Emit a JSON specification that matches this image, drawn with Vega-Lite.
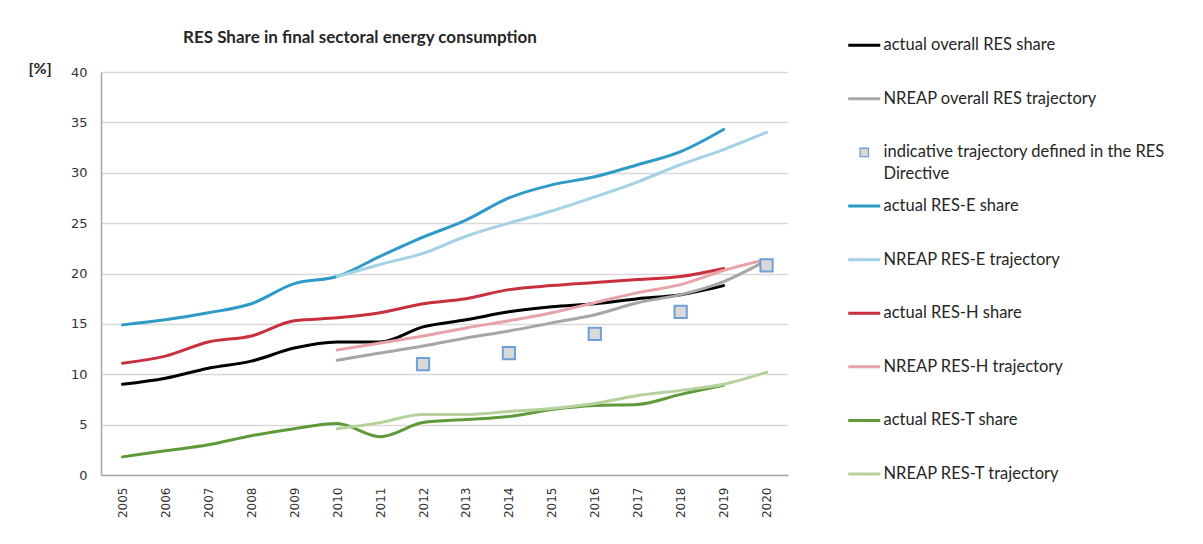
{
  "$schema": "https://vega.github.io/schema/vega-lite/v6.json",
  "width": 687,
  "height": 403,
  "autosize": {"type": "none"},
  "padding": {"left": 101, "top": 72, "right": 415, "bottom": 69},
  "background": "white",
  "title": {
    "text": "RES Share in final sectoral energy consumption",
    "anchor": "start",
    "frame": "group",
    "dx": 82,
    "dy": 23,
    "offset": 0,
    "baseline": "alphabetic",
    "font": "Lato",
    "fontSize": 17,
    "fontWeight": "bold",
    "color": "#262626"
  },
  "data": {
    "values": [
      {"year": 2005, "series": "actual overall RES share", "value": 9.0},
      {"year": 2006, "series": "actual overall RES share", "value": 9.6},
      {"year": 2007, "series": "actual overall RES share", "value": 10.6},
      {"year": 2008, "series": "actual overall RES share", "value": 11.3},
      {"year": 2009, "series": "actual overall RES share", "value": 12.6},
      {"year": 2010, "series": "actual overall RES share", "value": 13.2},
      {"year": 2011, "series": "actual overall RES share", "value": 13.2},
      {"year": 2012, "series": "actual overall RES share", "value": 14.7},
      {"year": 2013, "series": "actual overall RES share", "value": 15.4},
      {"year": 2014, "series": "actual overall RES share", "value": 16.2},
      {"year": 2015, "series": "actual overall RES share", "value": 16.7},
      {"year": 2016, "series": "actual overall RES share", "value": 17.0},
      {"year": 2017, "series": "actual overall RES share", "value": 17.5},
      {"year": 2018, "series": "actual overall RES share", "value": 17.9},
      {"year": 2019, "series": "actual overall RES share", "value": 18.8},
      {"year": 2010, "series": "NREAP overall RES trajectory", "value": 11.4},
      {"year": 2011, "series": "NREAP overall RES trajectory", "value": 12.1},
      {"year": 2012, "series": "NREAP overall RES trajectory", "value": 12.8},
      {"year": 2013, "series": "NREAP overall RES trajectory", "value": 13.6},
      {"year": 2014, "series": "NREAP overall RES trajectory", "value": 14.3},
      {"year": 2015, "series": "NREAP overall RES trajectory", "value": 15.1},
      {"year": 2016, "series": "NREAP overall RES trajectory", "value": 15.9},
      {"year": 2017, "series": "NREAP overall RES trajectory", "value": 17.1},
      {"year": 2018, "series": "NREAP overall RES trajectory", "value": 17.9},
      {"year": 2019, "series": "NREAP overall RES trajectory", "value": 19.2},
      {"year": 2020, "series": "NREAP overall RES trajectory", "value": 21.3},
      {"year": 2012, "series": "indicative trajectory defined in the RES Directive", "value": 11.0},
      {"year": 2014, "series": "indicative trajectory defined in the RES Directive", "value": 12.1},
      {"year": 2016, "series": "indicative trajectory defined in the RES Directive", "value": 14.0},
      {"year": 2018, "series": "indicative trajectory defined in the RES Directive", "value": 16.2},
      {"year": 2020, "series": "indicative trajectory defined in the RES Directive", "value": 20.8},
      {"year": 2005, "series": "actual RES-E share", "value": 14.9},
      {"year": 2006, "series": "actual RES-E share", "value": 15.4},
      {"year": 2007, "series": "actual RES-E share", "value": 16.1},
      {"year": 2008, "series": "actual RES-E share", "value": 17.0},
      {"year": 2009, "series": "actual RES-E share", "value": 19.0},
      {"year": 2010, "series": "actual RES-E share", "value": 19.7},
      {"year": 2011, "series": "actual RES-E share", "value": 21.7},
      {"year": 2012, "series": "actual RES-E share", "value": 23.6},
      {"year": 2013, "series": "actual RES-E share", "value": 25.3},
      {"year": 2014, "series": "actual RES-E share", "value": 27.5},
      {"year": 2015, "series": "actual RES-E share", "value": 28.8},
      {"year": 2016, "series": "actual RES-E share", "value": 29.6},
      {"year": 2017, "series": "actual RES-E share", "value": 30.8},
      {"year": 2018, "series": "actual RES-E share", "value": 32.1},
      {"year": 2019, "series": "actual RES-E share", "value": 34.3},
      {"year": 2010, "series": "NREAP RES-E trajectory", "value": 19.7},
      {"year": 2011, "series": "NREAP RES-E trajectory", "value": 20.9},
      {"year": 2012, "series": "NREAP RES-E trajectory", "value": 22.0},
      {"year": 2013, "series": "NREAP RES-E trajectory", "value": 23.7},
      {"year": 2014, "series": "NREAP RES-E trajectory", "value": 25.0},
      {"year": 2015, "series": "NREAP RES-E trajectory", "value": 26.2},
      {"year": 2016, "series": "NREAP RES-E trajectory", "value": 27.6},
      {"year": 2017, "series": "NREAP RES-E trajectory", "value": 29.1},
      {"year": 2018, "series": "NREAP RES-E trajectory", "value": 30.8},
      {"year": 2019, "series": "NREAP RES-E trajectory", "value": 32.3},
      {"year": 2020, "series": "NREAP RES-E trajectory", "value": 34.0},
      {"year": 2005, "series": "actual RES-H share", "value": 11.1},
      {"year": 2006, "series": "actual RES-H share", "value": 11.8},
      {"year": 2007, "series": "actual RES-H share", "value": 13.2},
      {"year": 2008, "series": "actual RES-H share", "value": 13.8},
      {"year": 2009, "series": "actual RES-H share", "value": 15.3},
      {"year": 2010, "series": "actual RES-H share", "value": 15.6},
      {"year": 2011, "series": "actual RES-H share", "value": 16.1},
      {"year": 2012, "series": "actual RES-H share", "value": 17.0},
      {"year": 2013, "series": "actual RES-H share", "value": 17.5},
      {"year": 2014, "series": "actual RES-H share", "value": 18.4},
      {"year": 2015, "series": "actual RES-H share", "value": 18.8},
      {"year": 2016, "series": "actual RES-H share", "value": 19.1},
      {"year": 2017, "series": "actual RES-H share", "value": 19.4},
      {"year": 2018, "series": "actual RES-H share", "value": 19.7},
      {"year": 2019, "series": "actual RES-H share", "value": 20.5},
      {"year": 2010, "series": "NREAP RES-H trajectory", "value": 12.4},
      {"year": 2011, "series": "NREAP RES-H trajectory", "value": 13.1},
      {"year": 2012, "series": "NREAP RES-H trajectory", "value": 13.8},
      {"year": 2013, "series": "NREAP RES-H trajectory", "value": 14.6},
      {"year": 2014, "series": "NREAP RES-H trajectory", "value": 15.3},
      {"year": 2015, "series": "NREAP RES-H trajectory", "value": 16.1},
      {"year": 2016, "series": "NREAP RES-H trajectory", "value": 17.1},
      {"year": 2017, "series": "NREAP RES-H trajectory", "value": 18.1},
      {"year": 2018, "series": "NREAP RES-H trajectory", "value": 18.9},
      {"year": 2019, "series": "NREAP RES-H trajectory", "value": 20.3},
      {"year": 2020, "series": "NREAP RES-H trajectory", "value": 21.4},
      {"year": 2005, "series": "actual RES-T share", "value": 1.8},
      {"year": 2006, "series": "actual RES-T share", "value": 2.4},
      {"year": 2007, "series": "actual RES-T share", "value": 3.0},
      {"year": 2008, "series": "actual RES-T share", "value": 3.9},
      {"year": 2009, "series": "actual RES-T share", "value": 4.6},
      {"year": 2010, "series": "actual RES-T share", "value": 5.1},
      {"year": 2011, "series": "actual RES-T share", "value": 3.8},
      {"year": 2012, "series": "actual RES-T share", "value": 5.2},
      {"year": 2013, "series": "actual RES-T share", "value": 5.5},
      {"year": 2014, "series": "actual RES-T share", "value": 5.8},
      {"year": 2015, "series": "actual RES-T share", "value": 6.5},
      {"year": 2016, "series": "actual RES-T share", "value": 6.9},
      {"year": 2017, "series": "actual RES-T share", "value": 7.0},
      {"year": 2018, "series": "actual RES-T share", "value": 8.0},
      {"year": 2019, "series": "actual RES-T share", "value": 8.9},
      {"year": 2010, "series": "NREAP RES-T trajectory", "value": 4.6},
      {"year": 2011, "series": "NREAP RES-T trajectory", "value": 5.2},
      {"year": 2012, "series": "NREAP RES-T trajectory", "value": 6.0},
      {"year": 2013, "series": "NREAP RES-T trajectory", "value": 6.0},
      {"year": 2014, "series": "NREAP RES-T trajectory", "value": 6.3},
      {"year": 2015, "series": "NREAP RES-T trajectory", "value": 6.6},
      {"year": 2016, "series": "NREAP RES-T trajectory", "value": 7.1},
      {"year": 2017, "series": "NREAP RES-T trajectory", "value": 7.9},
      {"year": 2018, "series": "NREAP RES-T trajectory", "value": 8.4},
      {"year": 2019, "series": "NREAP RES-T trajectory", "value": 9.0},
      {"year": 2020, "series": "NREAP RES-T trajectory", "value": 10.2}
    ]
  },
  "encoding": {
    "x": {
      "field": "year",
      "type": "ordinal",
      "scale": {"type": "point", "padding": 0.5},
      "axis": {
        "title": null,
        "labelAngle": 270,
        "labelAlign": "right",
        "labelBaseline": "middle",
        "labelPadding": 12,
        "labelFont": "DejaVu Sans",
        "labelFontSize": 12,
        "labelColor": "#333333",
        "ticks": false,
        "tickSize": 0,
        "grid": false,
        "domainColor": "#a6a6a6",
        "domainWidth": 1.5
      }
    },
    "y": {
      "field": "value",
      "type": "quantitative",
      "scale": {"domain": [0, 40], "nice": false},
      "axis": {
        "title": "[%]",
        "titleAngle": 0,
        "titleX": -73,
        "titleY": -4,
        "titleAlign": "left",
        "titleBaseline": "middle",
        "titleFont": "Lato",
        "titleFontSize": 16,
        "titleFontWeight": "bold",
        "titleColor": "#262626",
        "values": [0, 5, 10, 15, 20, 25, 30, 35, 40],
        "labelFont": "DejaVu Sans",
        "labelFontSize": 13,
        "labelColor": "#333333",
        "labelPadding": 14,
        "ticks": false,
        "tickSize": 0,
        "grid": true,
        "gridColor": "#d9d9d9",
        "gridWidth": 1.3,
        "domainColor": "#a6a6a6",
        "domainWidth": 1.5
      }
    },
    "color": {
      "field": "series",
      "type": "nominal",
      "sort": null,
      "scale": {
        "domain": [
          "actual overall RES share",
          "NREAP overall RES trajectory",
          "indicative trajectory defined in the RES Directive",
          "actual RES-E share",
          "NREAP RES-E trajectory",
          "actual RES-H share",
          "NREAP RES-H trajectory",
          "actual RES-T share",
          "NREAP RES-T trajectory"
        ],
        "range": ["#000000", "#a6a6a6", "#6f9fd8", "#2e9ac8", "#a3d1e5", "#c9303e", "#e8a2aa", "#5f9a3a", "#b5d29c"]
      },
      "legend": {
        "title": null,
        "orient": "none",
        "legendX": 755,
        "legendY": -35,
        "direction": "vertical",
        "symbolType": "stroke",
        "symbolSize": 1024,
        "symbolStrokeWidth": 3,
        "labelOffset": 11,
        "labelFont": "Lato",
        "labelFontSize": 16.5,
        "labelColor": "#262626",
        "labelLimit": 330,
        "rowPadding": 14.6,
        "padding": 0,
        "labelExpr": "datum.value === 'indicative trajectory defined in the RES Directive' ? ['indicative trajectory defined in the RES', 'Directive'] : [datum.label, ' ']",
        "encode": {
          "symbols": {
            "update": {
              "shape": {"signal": "datum.value === 'indicative trajectory defined in the RES Directive' ? 'square' : 'stroke'"},
              "size": {"signal": "datum.value === 'indicative trajectory defined in the RES Directive' ? 70 : 1024"},
              "fill": {"signal": "datum.value === 'indicative trajectory defined in the RES Directive' ? '#d9d9d9' : 'transparent'"},
              "strokeWidth": {"signal": "datum.value === 'indicative trajectory defined in the RES Directive' ? 1.3 : 3"},
              "opacity": {"value": 1}
            }
          },
          "labels": {
            "update": {
              "lineHeight": {"value": 22}
            }
          }
        }
      }
    }
  },
  "layer": [
    {
      "transform": [{"filter": "datum.series !== 'indicative trajectory defined in the RES Directive'"}],
      "mark": {"type": "line", "interpolate": "monotone", "strokeWidth": 3, "strokeCap": "round"}
    },
    {
      "transform": [{"filter": "datum.series === 'indicative trajectory defined in the RES Directive'"}],
      "mark": {"type": "point", "shape": "square", "filled": false, "fill": "#d9d9d9", "fillOpacity": 1, "size": 150, "strokeWidth": 2, "opacity": 1}
    }
  ],
  "config": {
    "view": {"stroke": null}
  }
}
